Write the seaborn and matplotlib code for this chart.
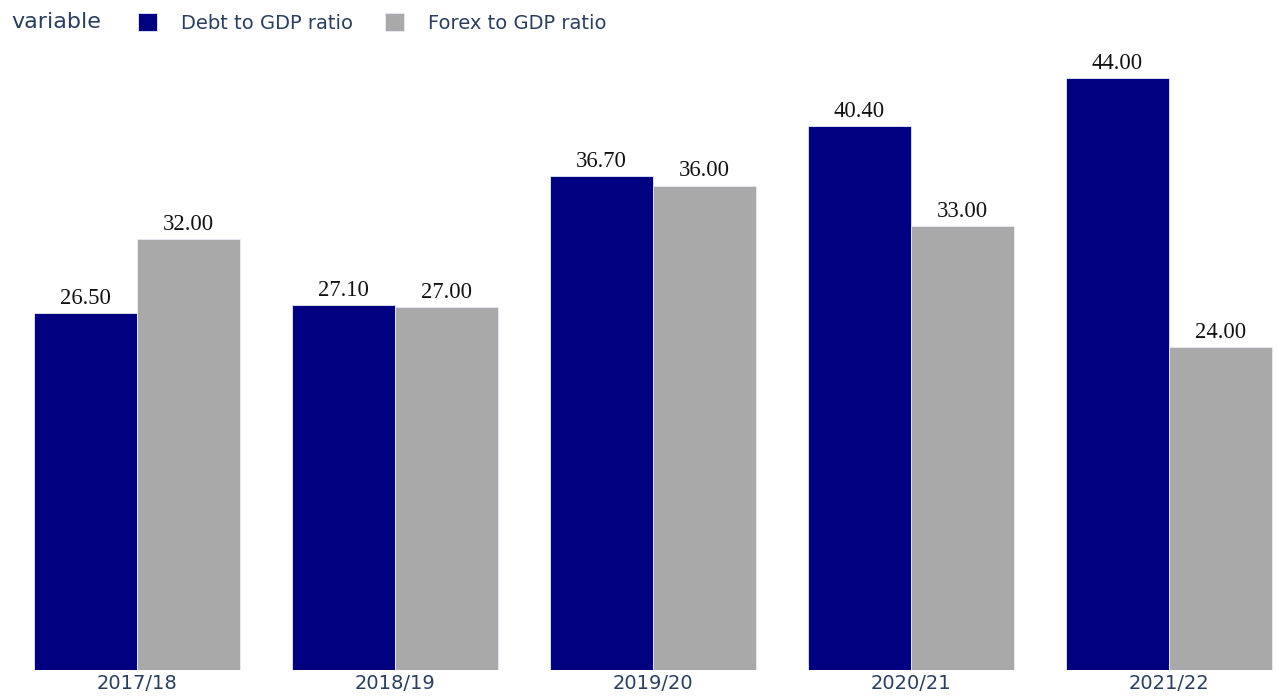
import matplotlib
matplotlib.use("Agg")
import matplotlib.pyplot as plt
from matplotlib.patches import Patch
import pandas as pd
import seaborn as sns

# Fiscal years and the two ratios (% of GDP)
periods = ["2017/18", "2018/19", "2019/20", "2020/21", "2021/22"]
debt_to_gdp = [26.5, 27.1, 36.7, 40.4, 44.0]
forex_to_gdp = [32.0, 27.0, 36.0, 33.0, 24.0]
series_names = ["Debt to GDP ratio", "Forex to GDP ratio"]
series_colors = ["#000080", "#a9a9a9"]

df = pd.DataFrame({
    "period": periods * 2,
    "variable": [series_names[0]] * len(periods) + [series_names[1]] * len(periods),
    "value": debt_to_gdp + forex_to_gdp,
})

sns.set_theme(style="white")
plt.rcParams["font.family"] = ["DejaVu Sans"]

W, H, DPI = 1277, 700, 100
fig = plt.figure(figsize=(W / DPI, H / DPI), dpi=DPI)
ax = fig.add_axes([0, 30 / H, 1, 1 - 30 / H])

sns.barplot(
    data=df, x="period", y="value", hue="variable",
    order=periods, hue_order=series_names,
    palette=dict(zip(series_names, series_colors)),
    width=0.8, gap=0, saturation=1, ax=ax, legend=False,
    edgecolor="#E5ECF6", linewidth=0.6,
)

for cont in ax.containers:
    ax.bar_label(cont, fmt="%.2f", padding=3, fontsize=16.3,
                 family="Liberation Serif", color="#111111")

ax.set_xlim(-0.531, 4.419)
ax.set_ylim(0, 49.8)
ax.set_xlabel("")
ax.set_ylabel("")
ax.set_yticks([])
for s in ax.spines.values():
    s.set_visible(False)
ax.tick_params(axis="x", length=0, pad=3, labelsize=14, labelcolor="#2a3f5f")

# Legend row across the top
fig.text(11 / W, 1 - 22 / H, "variable", fontsize=16, color="#2a3f5f",
         ha="left", va="center")
handles = [Patch(facecolor=c, edgecolor="#E5ECF6", linewidth=0.6) for c in series_colors]
leg = fig.legend(
    handles, series_names, loc="center left",
    bbox_to_anchor=(138 / W, 1 - 23 / H), ncol=2, frameon=False,
    fontsize=14, handlelength=1.0, handleheight=1.0,
    handletextpad=1.2, columnspacing=1.65, borderpad=0, borderaxespad=0,
)
for t in leg.get_texts():
    t.set_color("#2a3f5f")

fig.savefig("out.png", dpi=DPI)
